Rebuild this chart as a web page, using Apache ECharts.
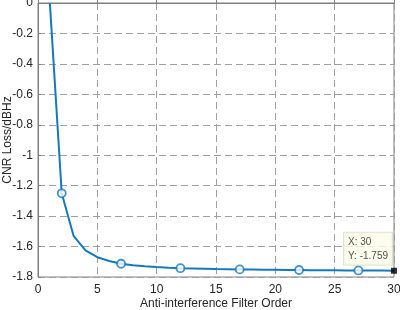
<!DOCTYPE html>
<html><head><meta charset="utf-8">
<script src="https://cdn.jsdelivr.net/npm/echarts@6/dist/echarts.min.js"></script>
<style>html,body{margin:0;padding:0;background:#fff}#c{width:400px;height:310px}</style>
</head><body><div id="c"></div>
<script>
const orders = [1,2,3,4,5,6,7,8,9,10,11,12,13,14,15,16,17,18,19,20,21,22,23,24,25,26,27,28,29,30];
const cnrLoss = [0,-1.25,-1.53,-1.625,-1.67,-1.695,-1.713,-1.723,-1.73,-1.735,-1.739,-1.742,-1.744,-1.746,-1.748,-1.749,-1.75,-1.751,-1.752,-1.753,-1.754,-1.754,-1.755,-1.756,-1.756,-1.757,-1.757,-1.758,-1.758,-1.759];
const markerOrders = [2,7,12,17,22,27];
const tipPoint = [30, -1.759];
const xLabel = 'Anti-interference Filter Order';
const yLabel = 'CNR Loss/dBHz';

const lineData = orders.map((x,i)=>[x,cnrLoss[i]]);
const markerData = markerOrders.map(x=>[x,cnrLoss[orders.indexOf(x)]]);
const blue = '#1379c0';
const font = 'Liberation Sans, Arial, sans-serif';
const chart = echarts.init(document.getElementById('c'), null, {renderer:'canvas'});
const gridLine = {show:true, lineStyle:{color:'#a0a0a0', type:[7,4], width:1}};
chart.setOption({
  animation:false,
  grid:{left:38, right:6, top:3, bottom:33, show:true, borderColor:'#808080', borderWidth:1,
        containLabel:false, outerBoundsMode:'none'},
  xAxis:{type:'value', min:0, max:30, interval:5,
    name:xLabel, nameLocation:'middle', nameGap:21, nameMoveOverlap:false,
    nameTextStyle:{fontFamily:font, fontSize:12, color:'#262626'},
    axisLine:{show:true, lineStyle:{color:'#808080'}},
    axisTick:{show:true, inside:true, length:3, lineStyle:{color:'#808080'}},
    axisLabel:{fontFamily:font, fontSize:12, color:'#262626', margin:7},
    splitLine:gridLine},
  yAxis:{type:'value', min:-1.8, max:0, interval:0.2,
    name:yLabel, nameLocation:'middle', nameGap:24.5, nameRotate:90, nameMoveOverlap:false,
    nameTextStyle:{fontFamily:font, fontSize:12, color:'#262626'},
    axisLine:{show:true, lineStyle:{color:'#808080'}},
    axisTick:{show:true, inside:true, length:3, lineStyle:{color:'#808080'}},
    axisLabel:{fontFamily:font, fontSize:12, color:'#262626', margin:5,
      formatter:v=>String(parseFloat(v.toFixed(1)))},
    splitLine:gridLine},
  series:[
    {type:'line', data:lineData, showSymbol:false, symbol:'none',
     lineStyle:{color:blue, width:2}, clip:true, z:2},
    {type:'scatter', data:markerData, symbol:'circle', symbolSize:8,
     itemStyle:{color:'#ffffff', borderColor:blue, borderWidth:1.8}, z:3},
    {type:'scatter', data:[tipPoint], symbol:'rect', symbolSize:6,
     itemStyle:{color:'#000'}, z:5,
     label:{show:true, position:[-47,-35], align:'left', verticalAlign:'top',
       formatter:p=>'X: '+p.value[0]+'\nY: '+p.value[1],
       fontFamily:font, fontSize:10, color:'#262626', lineHeight:14,
       backgroundColor:'#fdfde8', borderColor:'#dcdcc8', borderWidth:1,
       padding:[2,4,2,4]}}
  ]
});
</script></body></html>
